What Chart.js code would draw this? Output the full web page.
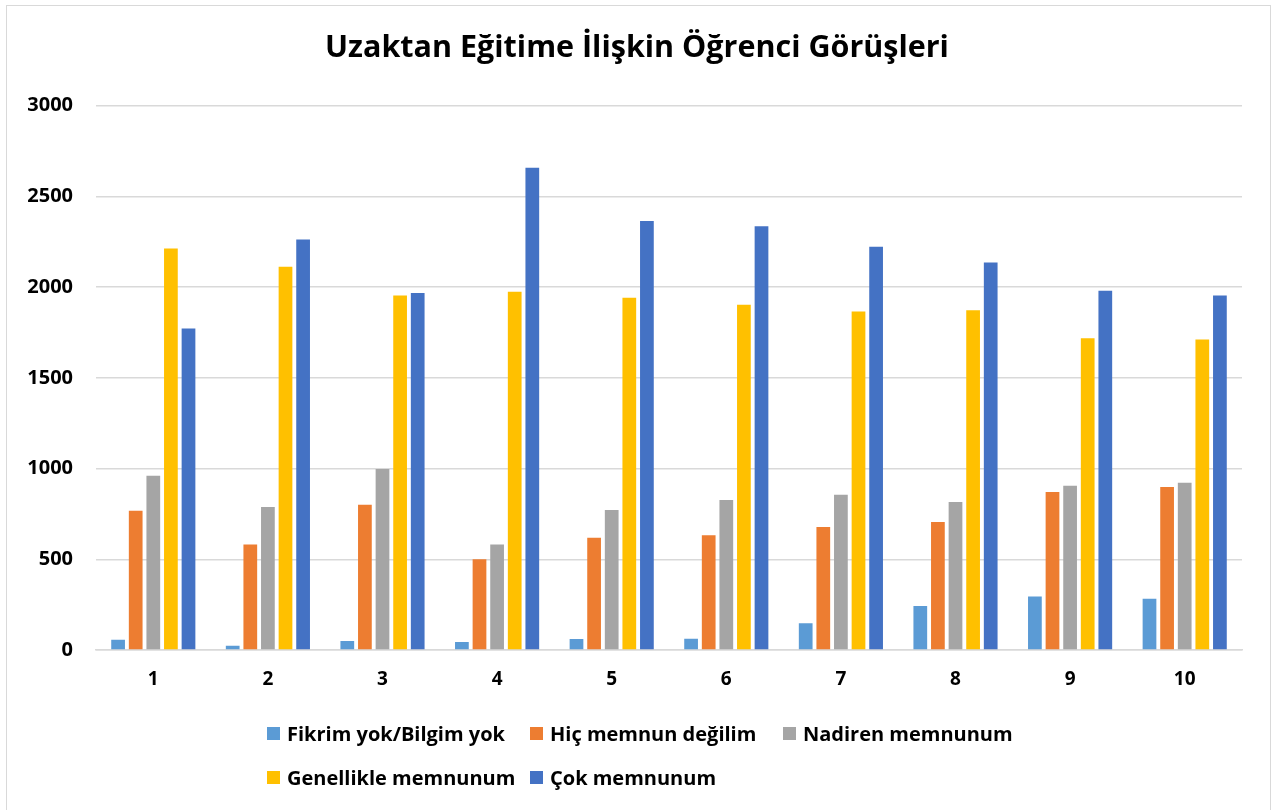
<!DOCTYPE html>
<html>
<head>
<meta charset="utf-8">
<script src="https://cdn.jsdelivr.net/npm/chart.js@4"></script>
<style>
    html, body { margin: 0; padding: 0; background: #fff; }
    #wrap { position: relative; width: 1274px; height: 810px; overflow: hidden; }
    #frame { position: absolute; left: 6px; top: 5px; width: 1263px; height: 830px; border: 1.5px solid #d9d9d9; pointer-events: none; }
    #legend { position: absolute; left: 267px; top: 721px; display: grid; grid-template-columns: 263px 253px auto; row-gap: 20px;
        font-family: "Open Sans", "Liberation Sans", sans-serif; font-weight: bold; font-size: 20px; color: #000; }
    .item { display: flex; align-items: center; height: 24px; white-space: nowrap; }
    .box { width: 13px; height: 13px; margin-right: 7px; flex: none; }
</style>
</head>
<body>
<div id="wrap">
    <canvas id="chart" width="1274" height="810"></canvas>
    <div id="legend"></div>
    <div id="frame"></div>
</div>
<script>
const categories = ["1", "2", "3", "4", "5", "6", "7", "8", "9", "10"];
const seriesNames = ["Fikrim yok/Bilgim yok", "Hiç memnun değilim", "Nadiren memnunum", "Genellikle memnunum", "Çok memnunum"];
const fikrimYok = [57, 24, 49, 44, 60, 62, 147, 242, 295, 282];
const hicMemnunDegil = [767, 581, 800, 500, 619, 632, 678, 705, 870, 898];
const nadirenMemnun = [960, 788, 997, 582, 772, 826, 855, 815, 905, 921];
const genellikleMemnun = [2212, 2112, 1954, 1974, 1941, 1903, 1866, 1872, 1718, 1711];
const cokMemnun = [1771, 2262, 1967, 2657, 2364, 2335, 2222, 2135, 1980, 1954];
const colors = ["#5B9BD5", "#ED7D31", "#A5A5A5", "#FFC000", "#4472C4"];

const FONT = "'Open Sans', 'Liberation Sans', sans-serif";
const allSeries = [fikrimYok, hicMemnunDegil, nadirenMemnun, genellikleMemnun, cokMemnun];

const datasets = allSeries.map((values, i) => ({
    label: seriesNames[i],
    data: values,
    backgroundColor: colors[i],
    categoryPercentage: 0.768,
    barPercentage: 0.78,
}));

const ctx = document.getElementById("chart").getContext("2d");
const chart = new Chart(ctx, {
    type: "bar",
    data: { labels: categories, datasets },
    options: {
        responsive: false,
        animation: false,
        layout: { padding: { left: 0, right: 0, top: 0, bottom: 100 } },
        plugins: {
            legend: { display: false },
            tooltip: { enabled: false },
            title: {
                display: true,
                text: "Uzaktan Eğitime İlişkin Öğrenci Görüşleri",
                color: "#000",
                font: { family: FONT, size: 30.5, weight: "bold" },
                padding: { top: 30, bottom: 39 },
            },
        },
        scales: {
            x: {
                grid: { display: false, drawTicks: false },
                border: { display: true, color: "#d9d9d9", width: 1.5 },
                ticks: { color: "#000", padding: 18, font: { family: FONT, size: 19, weight: "bold" } },
                afterFit: s => { s.height = 60; },
            },
            y: {
                min: 0,
                max: 3000,
                ticks: {
                    stepSize: 500,
                    color: "#000",
                    padding: 23,
                    font: { family: FONT, size: 20, weight: "bold" },
                    callback: v => String(v),
                },
                grid: { color: "#d9d9d9", lineWidth: 1.5, drawTicks: false },
                border: { display: false },
                afterFit: s => { s.width = 96; },
            },
            // empty right-hand spacer so the title is centred on the whole canvas
            spacer: {
                position: "right",
                grid: { display: false, drawTicks: false },
                border: { display: false },
                ticks: { display: false },
                afterFit: s => { s.width = 32; },
            },
        },
    },
});

// HTML legend, laid out in columns like the original
const legend = document.getElementById("legend");
chart.data.datasets.forEach(ds => {
    const item = document.createElement("div");
    item.className = "item";
    const box = document.createElement("span");
    box.className = "box";
    box.style.background = ds.backgroundColor;
    const label = document.createElement("span");
    label.textContent = ds.label;
    item.appendChild(box);
    item.appendChild(label);
    legend.appendChild(item);
});
</script>
</body>
</html>
